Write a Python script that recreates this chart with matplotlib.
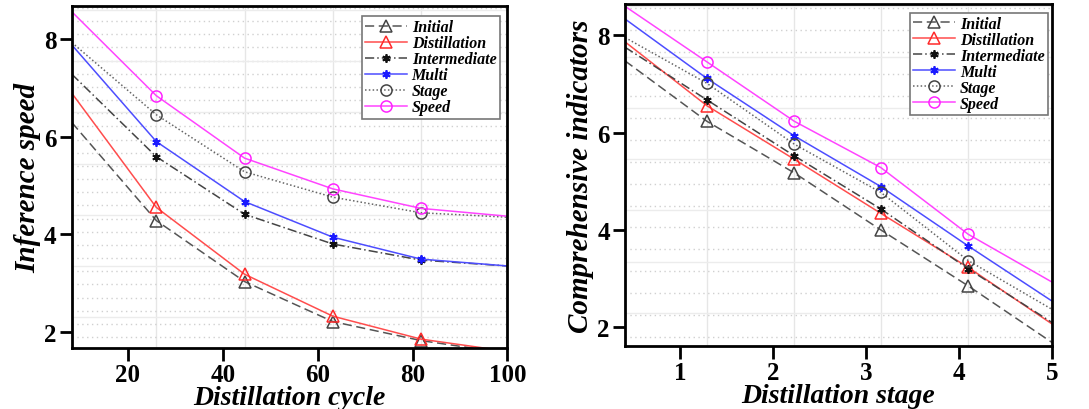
import numpy as np
import matplotlib
matplotlib.use('Agg')
import matplotlib.pyplot as plt

plt.rcParams['font.family'] = ['Liberation Serif', 'DejaVu Serif']
plt.rcParams['font.weight'] = 'bold'

# --- left panel: inference speed vs distillation cycle ---
cycle_x = [8.2, 26.0, 44.6, 63.2, 81.8, 100.0]
cycle_series = {
    'Initial':      [6.29, 4.28, 3.03, 2.21, 1.82, 1.56],
    'Distillation': [6.89, 4.55, 3.18, 2.32, 1.85, 1.60],
    'Intermediate': [7.28, 5.59, 4.41, 3.80, 3.47, 3.35],
    'Multi':        [7.88, 5.90, 4.67, 3.94, 3.49, 3.35],
    'Stage':        [7.93, 6.45, 5.28, 4.76, 4.44, 4.35],
    'Speed':        [8.56, 6.84, 5.56, 4.93, 4.53, 4.37],
}

# --- right panel: comprehensive indicators vs distillation stage ---
stage_x = [0.41, 1.29, 2.23, 3.16, 4.10, 5.0]
stage_series = {
    'Initial':      [7.47, 6.23, 5.17, 4.00, 2.85, 1.69],
    'Distillation': [7.86, 6.55, 5.45, 4.34, 3.23, 2.07],
    'Intermediate': [7.75, 6.67, 5.52, 4.43, 3.20, 2.10],
    'Multi':        [8.33, 7.11, 5.93, 4.89, 3.67, 2.54],
    'Stage':        [7.95, 7.01, 5.76, 4.77, 3.37, 2.37],
    'Speed':        [8.59, 7.45, 6.23, 5.28, 3.91, 2.93],
}

asterisk = (6, 2, 0)
styles = {
    'Initial':      dict(color='#555555', ls=(0, (6, 3)), marker='^', mfc='none', mec='#444444', ms=8),
    'Distillation': dict(color='#ff4d4d', ls='-', marker='^', mfc='none', mec='#ff2a2a', ms=8),
    'Intermediate': dict(color='#444444', ls=(0, (6, 2, 1, 2)), marker=asterisk, mfc='none', mec='#111111', ms=6, mew=1.3),
    'Multi':        dict(color='#4d4dff', ls='-', marker=asterisk, mfc='none', mec='#1a1aff', ms=6, mew=1.3),
    'Stage':        dict(color='#666666', ls=(0, (1, 1.5)), marker='o', mfc='none', mec='#444444', ms=8),
    'Speed':        dict(color='#ff44ff', ls='-', marker='o', mfc='none', mec='#ff22ff', ms=8),
}


def draw_panel(ax, x, series, xlim, ylim, xticks, xlabel, ylabel, hstep, leg_anchor):
    # light grid: vertical lines at the sample positions, dotted horizontals
    for xv in x[1:-1]:
        ax.axvline(xv, color='#e6e6e6', lw=1.0, zorder=0)
    for yv in np.arange(np.ceil(ylim[0] / hstep) * hstep, ylim[1], hstep):
        ax.axhline(yv, color='#d0d0d0', lw=1.0, ls=(0, (1, 2.5)), zorder=0)
    for yv in np.arange(2.3, ylim[1], 1.05):
        ax.axhline(yv, color='#ececec', lw=1.0, zorder=0)

    for name, vals in series.items():
        st = styles[name]
        ax.plot(x, vals, color=st['color'], ls=st['ls'], lw=1.1,
                marker=st['marker'], mfc=st['mfc'], mec=st['mec'],
                ms=st['ms'], mew=st.get('mew', 1.1),
                markevery=[1, 2, 3, 4], label=name)

    ax.set_xlim(*xlim)
    ax.set_ylim(*ylim)
    ax.set_xticks(xticks)
    ax.set_yticks([2, 4, 6, 8])
    ax.tick_params(direction='out', length=9, width=2, labelsize=18, pad=2)
    for lab in ax.get_xticklabels() + ax.get_yticklabels():
        lab.set_fontweight('bold')
    for sp in ax.spines.values():
        sp.set_linewidth(2)
    ax.set_xlabel(xlabel, fontsize=20, fontstyle='italic', fontweight='bold', labelpad=-1)
    ax.set_ylabel(ylabel, fontsize=21, fontstyle='italic', fontweight='bold', labelpad=2)

    leg = ax.legend(loc='upper right', bbox_to_anchor=leg_anchor, borderaxespad=0,
                    fancybox=False, edgecolor='#777777', framealpha=1, handlelength=2.6,
                    handletextpad=0.3, labelspacing=0.0, borderpad=0.2,
                    prop=dict(family='Liberation Serif', style='italic', weight='bold', size=11.5))
    leg.get_frame().set_linewidth(1.2)


fig = plt.figure(figsize=(10.89, 4.10), dpi=100)
ax1 = fig.add_axes([0.066, 0.149, 0.400, 0.834])
ax2 = fig.add_axes([0.574, 0.154, 0.392, 0.834])

draw_panel(ax1, cycle_x, cycle_series, (8.2, 100), (1.67, 8.68), [20, 40, 60, 80, 100],
           'Distillation cycle', 'Inference speed', 0.27, (0.982, 0.97))
draw_panel(ax2, stage_x, stage_series, (0.41, 5.0), (1.62, 8.64), [1, 2, 3, 4, 5],
           'Distillation stage', 'Comprehensive indicators', 0.45, (0.99, 0.974))

fig.savefig('out.png', dpi=100)
